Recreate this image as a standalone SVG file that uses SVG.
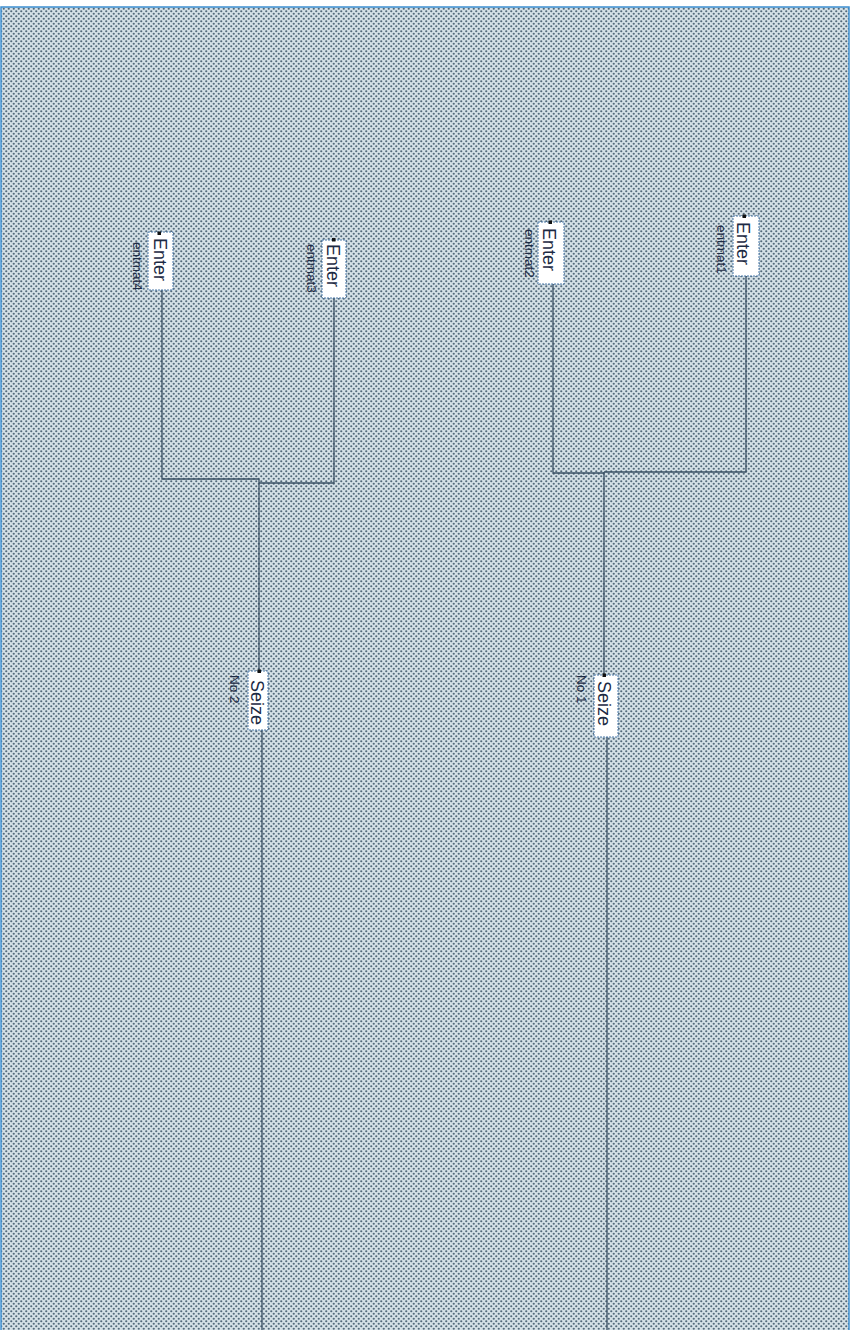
<svg xmlns="http://www.w3.org/2000/svg" width="855" height="1330" viewBox="0 0 855 1330">
<defs>
<pattern id="dots" width="5" height="5" patternUnits="userSpaceOnUse">
<rect width="5" height="5" fill="#d4e0e6"/>
<circle cx="1.25" cy="1.25" r="1.1" fill="#53697a"/>
<circle cx="3.75" cy="3.75" r="1.1" fill="#53697a"/>
</pattern>
<style>
.box{fill:#ffffff;stroke:#4a78a8;stroke-width:1;stroke-dasharray:2 1}
.main{font-family:"Liberation Sans",Arial,sans-serif;font-size:18px;fill:#1c2a44}
.lbl{font-family:"Liberation Sans",Arial,sans-serif;font-size:13.5px;fill:#1c2a44}
.port{fill:#111111}
.wire{fill:none;stroke:#3a5064;stroke-width:1.3}
</style>
</defs>
<rect width="855" height="1330" fill="#ffffff"/>
<rect x="1" y="7" width="848" height="1330" fill="url(#dots)" stroke="#3d8fd1" stroke-width="1.5"/>

<g id="connectors">
<path class="wire" d="M162,290 V479 H259"/>
<path class="wire" d="M334,298 V483 H259"/>
<path class="wire" d="M259,479 V671"/>
<path class="wire" d="M262,730 V1330"/>
<path class="wire" d="M553,284 V473 H604"/>
<path class="wire" d="M746,276 V472 H604"/>
<path class="wire" d="M604,472 V675"/>
<path class="wire" d="M607,737 V1330"/>
</g>

<g id="entmat4">
<rect class="box" x="148" y="232" width="25" height="58"/>
<rect class="port" x="157.5" y="231.5" width="3.5" height="3.5"/>
<text class="main" transform="translate(154,238) rotate(90)">Enter</text>
<text class="lbl" transform="translate(133,242) rotate(90)">entmat4</text>
</g>
<g id="entmat3">
<rect class="box" x="322" y="240" width="24" height="58"/>
<rect class="port" x="332" y="238" width="3.5" height="3.5"/>
<text class="main" transform="translate(327,244) rotate(90)">Enter</text>
<text class="lbl" transform="translate(307,244) rotate(90)">entmat3</text>
</g>
<g id="entmat2">
<rect class="box" x="538" y="222" width="26" height="62"/>
<rect class="port" x="548.5" y="220.5" width="3.5" height="3.5"/>
<text class="main" transform="translate(543,228) rotate(90)">Enter</text>
<text class="lbl" transform="translate(525,229) rotate(90)">entmat2</text>
</g>
<g id="entmat1">
<rect class="box" x="733" y="216" width="26" height="60"/>
<rect class="port" x="742.5" y="214.5" width="3.5" height="3.5"/>
<text class="main" transform="translate(737,222) rotate(90)">Enter</text>
<text class="lbl" transform="translate(717,225) rotate(90)">entmat1</text>
</g>
<g id="seize2">
<rect class="box" x="248" y="671" width="20" height="59"/>
<rect class="port" x="257.5" y="669.5" width="3.5" height="3.5"/>
<text class="main" transform="translate(251,680) rotate(90)">Seize</text>
<text class="lbl" transform="translate(230,675) rotate(90)">No 2</text>
</g>
<g id="seize1">
<rect class="box" x="594" y="675" width="24" height="62"/>
<rect class="port" x="602.5" y="673.5" width="3.5" height="3.5"/>
<text class="main" transform="translate(598,681) rotate(90)">Seize</text>
<text class="lbl" transform="translate(577,675) rotate(90)">No 1</text>
</g>
</svg>
